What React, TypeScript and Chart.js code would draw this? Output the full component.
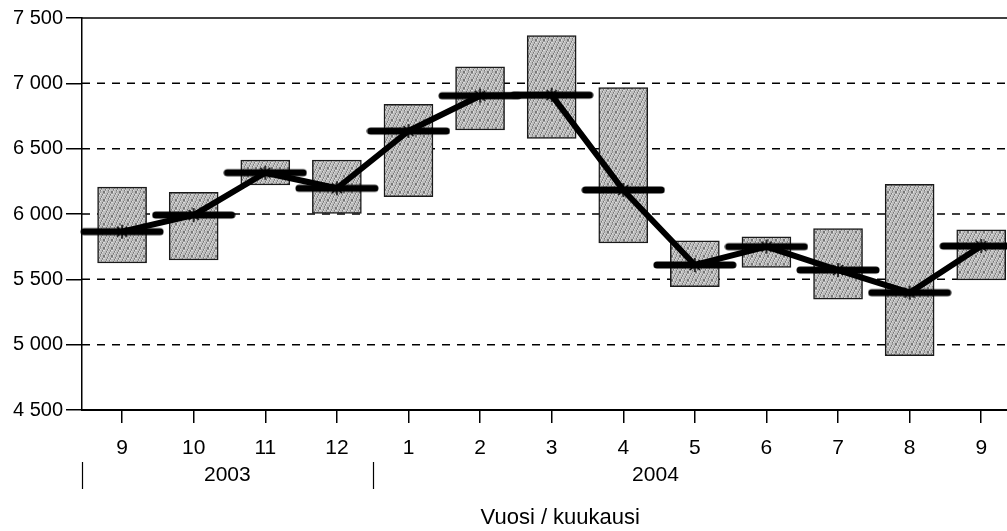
import React, { useEffect, useRef } from 'react';
import { Chart, registerables } from 'chart.js';

Chart.register(...registerables);

// ---- data ----
const monthLabels = ['9', '10', '11', '12', '1', '2', '3', '4', '5', '6', '7', '8', '9'];
const rangeLow = [5625, 5648, 6222, 6005, 6133, 6643, 6579, 5778, 5444, 5592, 5349, 4916, 5495];
const rangeHigh = [6206, 6166, 6413, 6413, 6839, 7127, 7365, 6967, 5794, 5826, 5888, 6227, 5878];
const trendValues = [5865, 5992, 6316, 6197, 6635, 6905, 6910, 6184, 5610, 5750, 5571, 5398, 5755];
const yTickValues = [4500, 5000, 5500, 6000, 6500, 7000, 7500];
const yearLabels = ['2003', '2004'];
const yearFrom = [-0.56, 3.5];
const yearTo = [3.5, 11.4];
const axisTitle = 'Vuosi / kuukausi';

const FONT = '"Liberation Sans", Arial, Helvetica, sans-serif';

function formatThousands(v: number): string {
  const s = String(Math.round(v));
  return s.replace(/\B(?=(\d{3})+(?!\d))/g, ' ');
}

function makePattern(ctx: CanvasRenderingContext2D): CanvasPattern | string {
  const c = document.createElement('canvas');
  c.width = 8;
  c.height = 8;
  const g = c.getContext('2d');
  if (!g) return '#b4b4b4';
  g.fillStyle = '#bdbdbd';
  g.fillRect(0, 0, 8, 8);
  for (let i = 0; i < 8; i++) {
    for (let j = 0; j < 8; j++) {
      const k = (i * 3 + j * 5) % 7;
      if (k === 0) {
        g.fillStyle = '#777777';
        g.fillRect(i, j, 1, 1);
      } else if (k === 3) {
        g.fillStyle = '#dedede';
        g.fillRect(i, j, 1, 1);
      } else if (k === 5) {
        g.fillStyle = '#9a9a9a';
        g.fillRect(i, j, 1, 1);
      }
    }
  }
  return ctx.createPattern(c, 'repeat') || '#b4b4b4';
}

function makeMarker(): HTMLCanvasElement {
  const c = document.createElement('canvas');
  c.width = 84;
  c.height = 16;
  const g = c.getContext('2d');
  if (g) {
    g.strokeStyle = '#000';
    g.lineCap = 'round';
    g.lineWidth = 7;
    g.beginPath();
    g.moveTo(4, 8);
    g.lineTo(80, 8);
    g.stroke();
    g.lineWidth = 1.5;
    g.lineCap = 'butt';
    g.beginPath();
    g.moveTo(42, 1);
    g.lineTo(42, 15);
    g.moveTo(37, 3);
    g.lineTo(47, 13);
    g.moveTo(47, 3);
    g.lineTo(37, 13);
    g.stroke();
  }
  return c;
}

const gridPlugin = {
  id: 'dashedGrid',
  beforeDatasetsDraw(chart: any) {
    const { ctx, chartArea, scales } = chart;
    const y = scales.y;
    ctx.save();
    ctx.strokeStyle = '#000';
    ctx.lineWidth = 1.5;
    yTickValues.forEach((v) => {
      if (v === yTickValues[0]) return;
      const py = y.getPixelForValue(v);
      ctx.setLineDash(v === yTickValues[yTickValues.length - 1] ? [] : [8, 7]);
      ctx.beginPath();
      ctx.moveTo(chartArea.left, py);
      ctx.lineTo(chartArea.right, py);
      ctx.stroke();
    });
    ctx.restore();
  },
};

const textPlugin = {
  id: 'bottomTexts',
  afterDraw(chart: any) {
    const { ctx, scales } = chart;
    const x = scales.x;
    ctx.save();
    ctx.fillStyle = '#000';
    ctx.strokeStyle = '#000';
    ctx.lineWidth = 1.2;
    ctx.textAlign = 'center';
    ctx.textBaseline = 'middle';
    ctx.font = `21px ${FONT}`;
    yearLabels.forEach((lab, i) => {
      const cx = (x.getPixelForValue(yearFrom[i]) + x.getPixelForValue(yearTo[i])) / 2;
      ctx.fillText(lab, cx, 475);
      const sx = Math.round(x.getPixelForValue(yearFrom[i])) + 0.5;
      ctx.beginPath();
      ctx.moveTo(sx, 462);
      ctx.lineTo(sx, 489);
      ctx.stroke();
    });
    ctx.font = `22px ${FONT}`;
    ctx.fillText(axisTitle, x.getPixelForValue(6.12), 518);
    ctx.restore();
  },
};

export default function App() {
  const ref = useRef<HTMLCanvasElement | null>(null);

  useEffect(() => {
    const canvas = ref.current;
    if (!canvas) return;
    const ctx = canvas.getContext('2d');
    if (!ctx) return;
    const pattern = makePattern(ctx);
    const marker = makeMarker();

    const chart = new Chart(ctx, {
      type: 'bar',
      data: {
        datasets: [
          {
            type: 'line',
            data: monthLabels.map((_, i) => ({ x: i, y: trendValues[i] })),
            borderColor: '#000',
            borderWidth: 6,
            borderJoinStyle: 'round',
            tension: 0,
            pointStyle: marker as any,
            pointRadius: 42,
            pointHoverRadius: 42,
            clip: false as any,
            order: 1,
          } as any,
          {
            type: 'bar',
            data: monthLabels.map((_, i) => ({ x: i, y: [rangeLow[i], rangeHigh[i]] })) as any,
            backgroundColor: pattern as any,
            borderColor: '#1a1a1a',
            borderWidth: 1.5,
            borderSkipped: false,
            barThickness: 49,
            order: 2,
          } as any,
        ],
      },
      options: {
        animation: false,
        responsive: false,
        events: [],
        layout: { autoPadding: false, padding: { top: 18, left: 0, right: 0, bottom: 0 } },
        plugins: {
          legend: { display: false },
          tooltip: { enabled: false },
          title: { display: false },
        },
        scales: {
          x: {
            type: 'linear',
            offset: false,
            min: -0.56,
            max: 12.36,
            afterBuildTicks: (s: any) => {
              s.ticks = monthLabels.map((_, i) => ({ value: i }));
            },
            afterFit: (s: any) => {
              s.height = 121;
            },
            ticks: {
              autoSkip: false,
              maxRotation: 0,
              color: '#000',
              font: { family: FONT, size: 21 },
              padding: 13,
              callback: (_v: any, i: number) => monthLabels[i],
            },
            grid: { offset: false, drawOnChartArea: false, tickLength: 13, color: '#000', lineWidth: 1.5 },
            border: { color: '#000', width: 2 },
          },
          y: {
            min: 4500,
            max: 7500,
            afterBuildTicks: (s: any) => {
              s.ticks = yTickValues.map((v) => ({ value: v }));
            },
            afterFit: (s: any) => {
              s.width = 82;
            },
            ticks: {
              color: '#000',
              font: { family: FONT, size: 20 },
              padding: 3,
              callback: (v: any) => formatThousands(Number(v)),
            },
            grid: { drawOnChartArea: false, tickLength: 16, color: '#000', lineWidth: 1.5 },
            border: { color: '#000', width: 1.5 },
          },
        },
      },
      plugins: [gridPlugin, textPlugin],
    } as any);

    return () => chart.destroy();
  }, []);

  return (
    <div style={{ position: 'fixed', left: 0, top: 0, width: 1007, height: 531, background: '#fff' }}>
      <canvas ref={ref} width={1007} height={531} style={{ display: 'block', width: 1007, height: 531 }} />
    </div>
  );
}
